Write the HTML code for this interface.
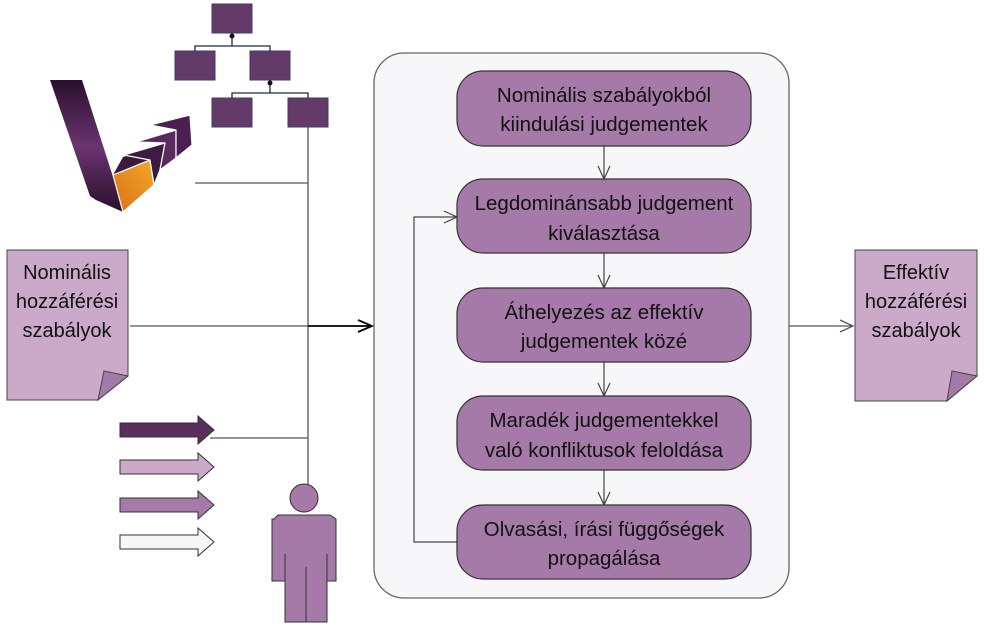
<!DOCTYPE html>
<html><head><meta charset="utf-8"><style>
html,body{margin:0;padding:0;background:#fff;}
svg{display:block;}
text{font-family:"Liberation Sans",sans-serif;font-size:20.5px;fill:#111;text-anchor:middle;}
text.d{font-size:20px;}
</style></head><body>
<svg width="990" height="630" viewBox="0 0 990 630" xmlns="http://www.w3.org/2000/svg">
<defs>
<linearGradient id="vg" x1="0" y1="0" x2="0" y2="1"><stop offset="0" stop-color="#2a0f2c"/><stop offset="0.5" stop-color="#6a3470"/><stop offset="1" stop-color="#2a0f2c"/></linearGradient>
<linearGradient id="og" x1="0" y1="1" x2="1" y2="0"><stop offset="0" stop-color="#d9731a"/><stop offset="1" stop-color="#f2a62a"/></linearGradient>
</defs>
<!-- tree -->
<g fill="#643a68" stroke="#3f3a6a" stroke-width="1">
<rect x="212" y="4" width="40" height="29"/>
<rect x="175" y="51" width="40" height="29"/>
<rect x="250" y="51" width="40" height="29"/>
<rect x="212" y="98" width="40" height="29"/>
<rect x="288" y="98" width="40" height="29"/>
</g>
<g stroke="#1a2a40" stroke-width="1.3" fill="none">
<path d="M232 33V46M195 51V46H270V51M270 80V93M232 98V93H308V98"/>
</g>
<circle cx="232" cy="36" r="2.5" fill="#111"/><circle cx="270" cy="83" r="2.5" fill="#111"/>
<!-- logo -->
<path d="M50 80L82 80L122 205L123 212L96 200L90 196Z" fill="url(#vg)"/>
<path d="M123 157L153 147L155 183L123 212L113 175Z" fill="#3a1a3d"/>
<path d="M113 175L150 160L154 185L123 212Z" fill="url(#og)" stroke="#fff" stroke-width="1.2"/>
<path d="M124 155L165 143L160 170L154 185L150 160Z" fill="#3d1a40" stroke="#fff" stroke-width="1.2"/>
<path d="M136 142L176 130L176 158L160 170L165 143Z" fill="#5a2a5e" stroke="#fff" stroke-width="1.2"/>
<path d="M150 125L190 115L192 145L176 158L176 130Z" fill="#4a2050" stroke="#fff" stroke-width="1.2"/>
<!-- lines -->
<g stroke="#555" stroke-width="1.3" fill="none">
<path d="M308 127V485"/>
<path d="M195 183H308"/>
<path d="M130 326H308"/>
<path d="M210 438H308"/>
</g>
<path d="M308 326H372M358 320L372 326L358 332" stroke="#000" stroke-width="1.8" fill="none"/>
<!-- arrows -->
<g stroke="#333" stroke-width="1">
<path d="M120 423H198V416L214 430L198 444V437H120Z" fill="#5a2e5e"/>
<path d="M120 460H198V453L214 467L198 481V474H120Z" fill="#cbaac9"/>
<path d="M120 498H198V491L214 505L198 519V512H120Z" fill="#a57aa8"/>
<path d="M120 535H198V528L214 542L198 556V549H120Z" fill="#f7f5f8"/>
</g>
<!-- person -->
<g fill="#a57aa8" stroke="#333" stroke-width="1">
<circle cx="304" cy="498" r="14"/>
<path d="M274 519L278 515H330L336 519V581H327V622H285V581H272V519Z"/>
<path d="M285 554V581M327 554V581M306 567V622" fill="none"/>
</g>
<!-- docs -->
<g stroke="#444" stroke-width="1">
<path d="M7 250H128V376L98 400H7Z" fill="#cbaac9"/>
<path d="M104 371L128 376L98 400Z" fill="#a57aa8"/>
<path d="M855 250H977V376L947 401H855Z" fill="#cbaac9"/>
<path d="M952 371L977 376L947 401Z" fill="#a57aa8"/>
</g>
<text class="d" x="67" y="279">Nominális</text><text class="d" x="67" y="308">hozzáférési</text><text class="d" x="67" y="337">szabályok</text>
<text class="d" x="916" y="279">Effektív</text><text class="d" x="916" y="308">hozzáférési</text><text class="d" x="916" y="337">szabályok</text>
<!-- main box -->
<rect x="374" y="53" width="415" height="545" rx="30" fill="#f7f6f9" stroke="#666" stroke-width="1.3"/>
<path d="M789 326H853M840 320L853 326L840 332" stroke="#555" stroke-width="1.3" fill="none"/>
<g stroke="#444" stroke-width="1.2" fill="none">
<path d="M604 146V179M598 166L604 179L610 166"/>
<path d="M604 253V288M598 275L604 288L610 275"/>
<path d="M604 362V396M598 383L604 396L610 383"/>
<path d="M604 470V505M598 492L604 505L610 492"/>
<path d="M457 542H414V217H457M444 211L457 217L444 223"/>
</g>
<g fill="#a57aa8" stroke="#333" stroke-width="1.2">
<rect x="457" y="71" width="294" height="75" rx="26"/>
<rect x="457" y="179" width="294" height="74" rx="26"/>
<rect x="457" y="288" width="294" height="74" rx="26"/>
<rect x="457" y="396" width="294" height="74" rx="26"/>
<rect x="457" y="505" width="294" height="74" rx="26"/>
</g>
<text x="604" y="102">Nominális szabályokból</text><text x="604" y="131">kiindulási judgementek</text>
<text x="604" y="210">Legdominánsabb judgement</text><text x="604" y="240">kiválasztása</text>
<text x="604" y="319">Áthelyezés az effektív</text><text x="604" y="348">judgementek közé</text>
<text x="604" y="427">Maradék judgementekkel</text><text x="604" y="457">való konfliktusok feloldása</text>
<text x="604" y="536">Olvasási, írási függőségek</text><text x="604" y="565">propagálása</text>
</svg>
</body></html>
